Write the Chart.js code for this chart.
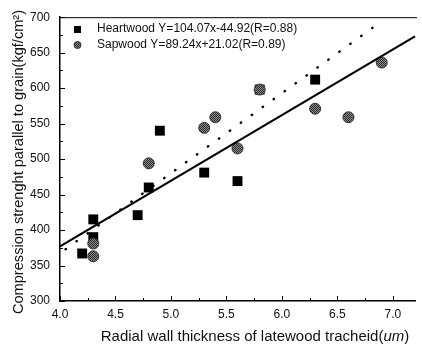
<!DOCTYPE html>
<html>
<head>
<meta charset="utf-8">
<script src="https://cdn.jsdelivr.net/npm/chart.js@4.4.0/dist/chart.umd.min.js"></script>
<style>
  html, body { margin: 0; padding: 0; background: #fff; }
  #wrap { width: 422px; height: 350px; }
</style>
</head>
<body>
<div id="wrap"><canvas id="chart" width="422" height="350"></canvas></div>
<script>
// Heartwood (squares)
const heartX = [4.2, 4.3, 4.3, 4.7, 4.8, 4.9, 5.3, 5.6, 5.8, 6.3];
const heartY = [367, 415, 390, 421, 460, 540, 481, 469, 598, 612];

// Sapwood (gray circles)
const sapX = [4.3, 4.3, 4.8, 5.3, 5.4, 5.6, 5.8, 6.3, 6.6, 6.9];
const sapY = [381, 363, 494, 544, 559, 515, 598, 571, 559, 636];

// Fitted lines as drawn in the figure
const solidFitX = [4.0, 7.2];
const solidFitY = [377, 673];
const dotFitX = [4.05, 6.87];
const dotFitY = [373, 691];

const legendLabels = [
    'Heartwood Y=104.07x-44.92(R=0.88)',
    'Sapwood Y=89.24x+21.02(R=0.89)'
];
const yTitle = 'Compression strenght parallel to grain(kgf/cm\u00B2)';
const xTitle = ['Radial wall thickness of latewood tracheid(', 'um', ')'];

const FONT = '"Liberation Sans", Arial, sans-serif';

function toPoints(xs, ys) {
    return xs.map((x, i) => ({ x: x, y: ys[i] }));
}

// Halftone-like gray fill for sapwood markers
function makeHalftone(ctx) {
    const c = document.createElement('canvas');
    c.width = 2;
    c.height = 2;
    const p = c.getContext('2d');
    p.fillStyle = '#8c8c8c';
    p.fillRect(0, 0, 2, 2);
    p.fillStyle = '#2a2a2a';
    p.fillRect(0, 0, 1, 1);
    p.fillRect(1, 1, 1, 1);
    return ctx.createPattern(c, 'repeat');
}

const ctx = document.getElementById('chart').getContext('2d');
const halftone = makeHalftone(ctx);

// Inward ticks, frame, legend and axis titles
const decorPlugin = {
    id: 'decor',
    afterDraw(chart) {
        const c = chart.ctx;
        const area = chart.chartArea;
        const xs = chart.scales.x;
        const ys = chart.scales.y;
        c.save();
        c.strokeStyle = '#000';
        c.lineWidth = 1;

        // top frame line
        c.beginPath();
        c.moveTo(area.left, area.top + 0.5);
        c.lineTo(area.right + 2, area.top + 0.5);
        c.stroke();

        // y ticks (major every 50, minor every 25)
        for (let v = 300; v <= 700; v += 25) {
            const py = Math.round(ys.getPixelForValue(v)) + 0.5;
            const len = v % 50 === 0 ? 5 : 3;
            c.beginPath();
            c.moveTo(area.left, py);
            c.lineTo(area.left + len, py);
            c.stroke();
        }
        // x ticks (major every 0.5, minor every 0.25)
        for (let i = 0; i <= 12; i++) {
            const v = 4 + i * 0.25;
            const px = Math.round(xs.getPixelForValue(v)) + 0.5;
            const len = i % 2 === 0 ? 5 : 3;
            c.beginPath();
            c.moveTo(px, area.bottom);
            c.lineTo(px, area.bottom - len);
            c.stroke();
        }

        // legend
        c.fillStyle = '#000';
        c.fillRect(74, 26, 7, 7);
        c.beginPath();
        c.arc(77.5, 45, 3.5, 0, Math.PI * 2);
        c.fillStyle = halftone;
        c.fill();
        c.strokeStyle = '#333';
        c.stroke();
        c.fillStyle = '#111';
        c.font = '12px ' + FONT;
        c.textAlign = 'left';
        c.textBaseline = 'middle';
        c.fillText(legendLabels[0], 97, 29);
        c.fillText(legendLabels[1], 97, 45);

        // x axis title with italic unit
        const xf = '15px ' + FONT;
        const xfi = 'italic 15px ' + FONT;
        c.font = xf;
        const w0 = c.measureText(xTitle[0]).width;
        c.font = xfi;
        const w1 = c.measureText(xTitle[1]).width;
        c.font = xf;
        const w2 = c.measureText(xTitle[2]).width;
        let tx = 255 - (w0 + w1 + w2) / 2;
        const ty = 337;
        c.fillText(xTitle[0], tx, ty);
        tx += w0;
        c.font = xfi;
        c.fillText(xTitle[1], tx, ty);
        tx += w1;
        c.font = xf;
        c.fillText(xTitle[2], tx, ty);

        // y axis title
        c.translate(19, 162);
        c.rotate(-Math.PI / 2);
        c.textAlign = 'center';
        c.font = '14.6px ' + FONT;
        c.fillText(yTitle, 0, 0);
        c.restore();
    }
};

const chart = new Chart(ctx, {
    type: 'scatter',
    data: {
        datasets: [
            {
                label: 'fit solid',
                type: 'line',
                data: toPoints(solidFitX, solidFitY),
                borderColor: '#000',
                borderWidth: 2.2,
                pointRadius: 0,
                fill: false
            },
            {
                label: 'fit dotted',
                type: 'line',
                data: toPoints(dotFitX, dotFitY),
                borderColor: '#000',
                borderWidth: 2.4,
                borderDash: [0.5, 13],
                borderCapStyle: 'round',
                pointRadius: 0,
                fill: false
            },
            {
                label: 'Sapwood',
                data: toPoints(sapX, sapY),
                pointStyle: 'circle',
                pointRadius: 5.5,
                backgroundColor: halftone,
                borderColor: '#333',
                borderWidth: 1
            },
            {
                label: 'Heartwood',
                data: toPoints(heartX, heartY),
                pointStyle: 'rect',
                pointRadius: 7,
                backgroundColor: '#000',
                borderColor: '#000',
                borderWidth: 0
            }
        ]
    },
    options: {
        responsive: false,
        animation: false,
        clip: false,
        layout: {
            padding: { top: 13, right: 2, left: 0, bottom: 0 }
        },
        plugins: {
            legend: { display: false },
            tooltip: { enabled: false }
        },
        scales: {
            x: {
                type: 'linear',
                min: 4.0,
                max: 7.2,
                afterFit: function(scale) { scale.height = 49; },
                afterBuildTicks: function(scale) {
                    scale.ticks = [4.0, 4.5, 5.0, 5.5, 6.0, 6.5, 7.0].map(v => ({ value: v }));
                },
                grid: { drawOnChartArea: false, drawTicks: false },
                border: { display: true, color: '#000', width: 1.5 },
                ticks: {
                    padding: 6,
                    color: '#111',
                    font: { family: FONT, size: 12 },
                    callback: function(v) { return Number(v).toFixed(1); }
                }
            },
            y: {
                min: 300,
                max: 700,
                afterFit: function(scale) { scale.width = 60; },
                grid: { drawOnChartArea: false, drawTicks: false },
                border: { display: true, color: '#000', width: 1.5 },
                ticks: {
                    stepSize: 50,
                    padding: 10,
                    color: '#111',
                    font: { family: FONT, size: 12 }
                }
            }
        }
    },
    plugins: [decorPlugin]
});
</script>
</body>
</html>
